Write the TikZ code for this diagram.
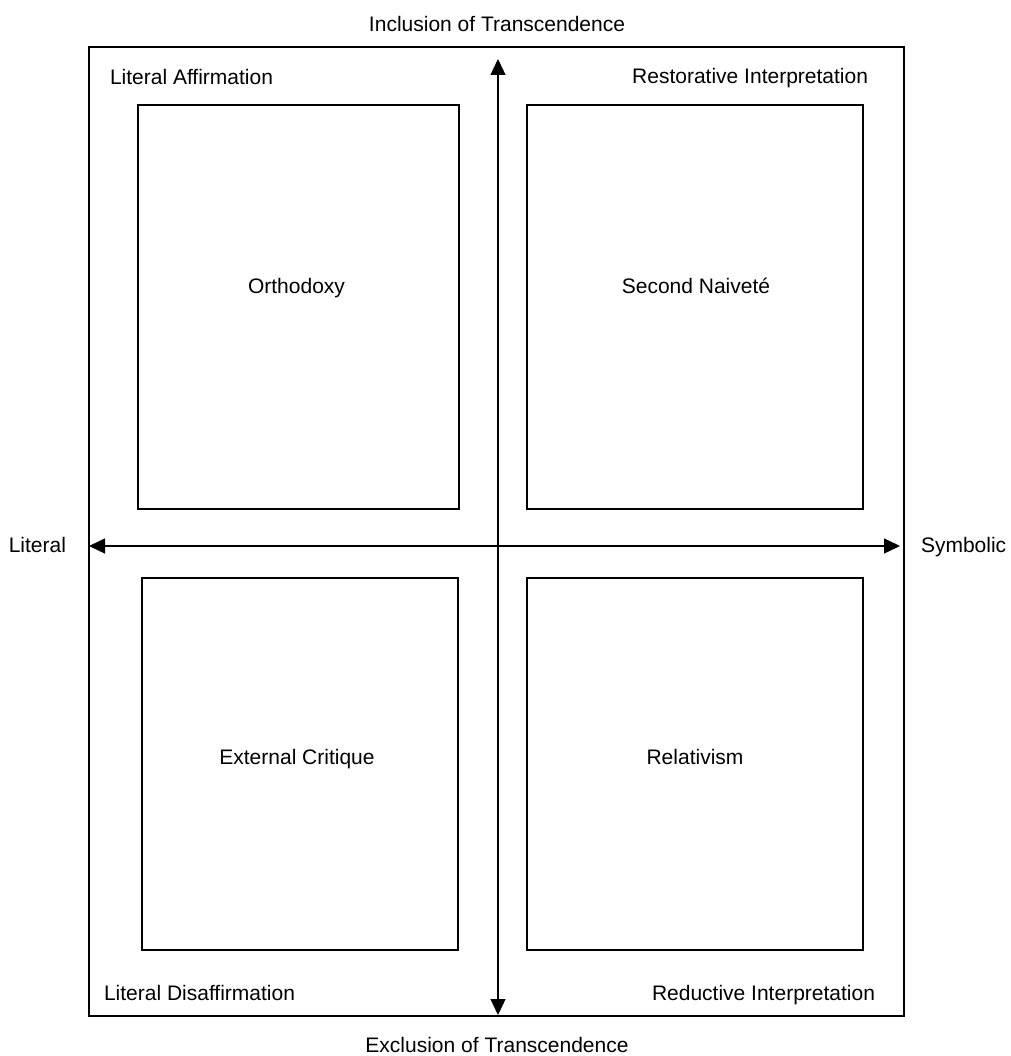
\documentclass[tikz,border=0pt]{standalone}
\usepackage{fontspec}
\setmainfont{Liberation Sans}
\usepackage{tikz}
\usetikzlibrary{arrows.meta}

\begin{document}
\begin{tikzpicture}[x=1pt,y=-1pt,
    every node/.style={font=\fontsize{21}{25}\selectfont,inner sep=0pt,outer sep=0pt},
    quad/.style={draw,line width=1.3pt},
    axis/.style={line width=1.3pt,{Triangle[length=16pt,width=15pt]}-{Triangle[length=16pt,width=15pt]}}]
      \useasboundingbox (0,0) rectangle (1010,1056);
      %%%%%%%%%%%%%%%%%%%%%%%%%%%%%%%%%%%%%%%%%%%%%%%%%%%%%%%%%%%%%%%%%%%%%%%%%%
      %%% BEGIN: FRAME AND AXES.
      %%%%%%%%%%%%%%%%%%%%%%%%%%%%%%%%%%%%%%%%%%%%%%%%%%%%%%%%%%%%%%%%%%%%%%%%%%
      \node[quad,minimum width=815pt,minimum height=969pt] (frame) at (496.5,531.5) {};
      \coordinate (top) at (498,59);
      \coordinate (bottom) at (498,1015);
      \coordinate (left) at (89,546);
      \coordinate (right) at (900,546);
      \draw[axis] (bottom) -- (top);
      \draw[axis] (left) -- (right);

      % Axis labels.
      \node[anchor=base] (incl) at (497,32) {Inclusion of Transcendence};
      \node[anchor=base] (excl) at (497,1052) {Exclusion of Transcendence};
      \node[anchor=base east] (lit) at (66,552) {Literal};
      \node[anchor=base west] (sym) at (921,552) {Symbolic};
      %%%%%%%%%%%%%%%%%%%%%%%%%%%%%%%%%%%%%%%%%%%%%%%%%%%%%%%%%%%%%%%%%%%%%%%%%%
      %%% END: FRAME AND AXES.
      %%%%%%%%%%%%%%%%%%%%%%%%%%%%%%%%%%%%%%%%%%%%%%%%%%%%%%%%%%%%%%%%%%%%%%%%%%

      %%%%%%%%%%%%%%%%%%%%%%%%%%%%%%%%%%%%%%%%%%%%%%%%%%%%%%%%%%%%%%%%%%%%%%%%%%
      %%% BEGIN: QUADRANTS.
      %%%%%%%%%%%%%%%%%%%%%%%%%%%%%%%%%%%%%%%%%%%%%%%%%%%%%%%%%%%%%%%%%%%%%%%%%%
      % Corner labels.
      \node[anchor=base west] (affirm) at (110,85) {Literal Affirmation};
      \node[anchor=base east] (restore) at (868,84) {Restorative Interpretation};
      \node[anchor=base west] (disaffirm) at (104,1000) {Literal Disaffirmation};
      \node[anchor=base east] (reduce) at (875,1000) {Reductive Interpretation};

      % Boxes.
      \node[quad,minimum width=321pt,minimum height=404pt] (orth) at (298.5,307) {};
      \node[quad,minimum width=336pt,minimum height=404pt] (naiv) at (695,307) {};
      \node[quad,minimum width=316pt,minimum height=372pt] (crit) at (300,764) {};
      \node[quad,minimum width=336pt,minimum height=372pt] (rel) at (695,764) {};

      % Box texts.
      \node[anchor=base] (orthtxt) at (296.5,294) {Orthodoxy};
      \node[anchor=base] (naivtxt) at (696,294) {Second Naiveté};
      \node[anchor=base] (crittxt) at (297,764) {External Critique};
      \node[anchor=base] (reltxt) at (695,764) {Relativism};
      %%%%%%%%%%%%%%%%%%%%%%%%%%%%%%%%%%%%%%%%%%%%%%%%%%%%%%%%%%%%%%%%%%%%%%%%%%
      %%% END: QUADRANTS.
      %%%%%%%%%%%%%%%%%%%%%%%%%%%%%%%%%%%%%%%%%%%%%%%%%%%%%%%%%%%%%%%%%%%%%%%%%%
\end{tikzpicture}
\end{document}
